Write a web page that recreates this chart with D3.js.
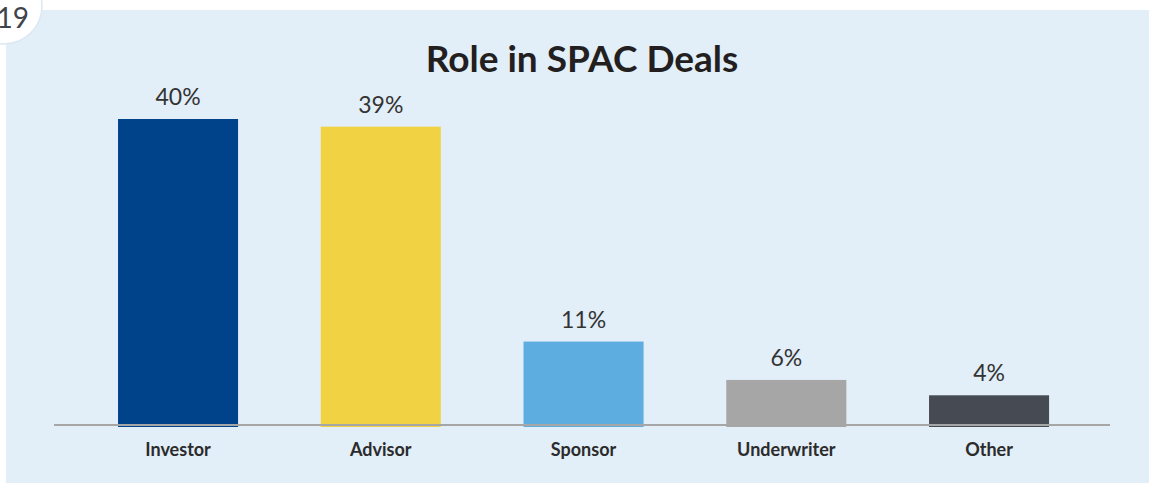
<!DOCTYPE html>
<html>
<head>
    <meta charset="utf-8">
    <style>
        body {
            margin: 0;
            background: white;
            font-family: Lato, 'Open Sans', sans-serif;
        }
        svg {
            display: block;
        }
    </style>
</head>
<body>
    <svg width="1149" height="483"></svg>

<script src="https://d3js.org/d3.v7.min.js"></script>
<script>
    // chart data
    let categories = ["Investor", "Advisor", "Sponsor", "Underwriter", "Other"]
    let shares = [40, 39, 11, 6, 4]
    let barColors = ["#00438a", "#f0d242", "#5dade0", "#a6a6a6", "#464a52"]
    let title = "Role in SPAC Deals"
    let pageNumber = "19"

    let data = categories.map((c, i) => ({ name: c, value: shares[i], color: barColors[i] }))

    let svg = d3.select("svg")

    // light blue panel
    svg.append("rect")
        .attr("x", 6)
        .attr("y", 10)
        .attr("width", 1149 - 6)
        .attr("height", 483 - 10)
        .style("fill", "#e2eef8")

    // page badge in the corner
    svg.append("circle")
        .attr("cx", 4)
        .attr("cy", 6)
        .attr("r", 38)
        .style("fill", "white")
        .style("stroke", "#dde8f2")
        .style("stroke-width", 1.5)

    svg.append("text")
        .attr("x", 29)
        .attr("y", 28)
        .attr("text-anchor", "end")
        .style("font-size", "28px")
        .style("fill", "#3f444b")
        .text(pageNumber)

    svg.append("text")
        .attr("x", 582)
        .attr("y", 72)
        .attr("text-anchor", "middle")
        .style("font-size", "37px")
        .style("font-weight", 700)
        .style("fill", "#231f20")
        .text(title)

    let x = d3.scaleBand()
        .domain(categories)
        .range([35.3, 1131.8])
        .padding(0.408)

    let y = d3.scaleLinear()
        .domain([0, 40])
        .range([426, 119])

    svg.selectAll(".bar")
        .data(data)
        .join("rect")
        .attr("class", "bar")
        .attr("x", d => x(d.name))
        .attr("width", x.bandwidth())
        .attr("y", d => y(d.value))
        .attr("height", d => y(0) - y(d.value) + 1)
        .style("fill", d => d.color)

    // baseline
    svg.append("line")
        .attr("x1", 54)
        .attr("x2", 1110)
        .attr("y1", 425)
        .attr("y2", 425)
        .style("stroke", "#a6a6a6")
        .style("stroke-width", 2)

    svg.selectAll(".value-label")
        .data(data)
        .join("text")
        .attr("class", "value-label")
        .attr("x", d => x(d.name) + x.bandwidth() / 2)
        .attr("y", d => y(d.value) - 14)
        .attr("text-anchor", "middle")
        .style("font-size", "23px")
        .style("fill", "#333333")
        .text(d => d.value + "%")

    svg.selectAll(".cat-label")
        .data(data)
        .join("text")
        .attr("class", "cat-label")
        .attr("x", d => x(d.name) + x.bandwidth() / 2)
        .attr("y", 456)
        .attr("text-anchor", "middle")
        .style("font-size", "18px")
        .style("font-weight", 700)
        .style("fill", "#2b2b2b")
        .text(d => d.name)
</script>
</body>
</html>
